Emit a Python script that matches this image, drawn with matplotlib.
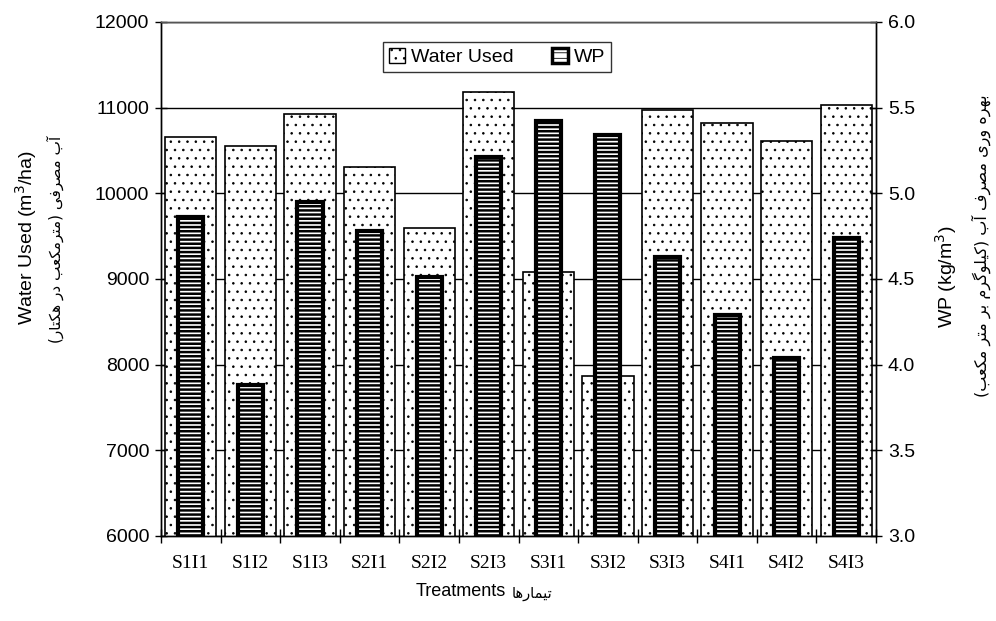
import numpy as np
import matplotlib
matplotlib.use('Agg')
import matplotlib.pyplot as plt
from matplotlib.patches import Patch

# data
treatments = ['S1I1', 'S1I2', 'S1I3', 'S2I1', 'S2I2', 'S2I3',
              'S3I1', 'S3I2', 'S3I3', 'S4I1', 'S4I2', 'S4I3']
water_used = [10655, 10550, 10925, 10310, 9590, 11185,
              9080, 7865, 10975, 10815, 10605, 11035]
wp = [4.86, 3.88, 4.95, 4.78, 4.51, 5.21,
      5.42, 5.34, 4.63, 4.29, 4.04, 4.74]

left_ticks = [6000, 7000, 8000, 9000, 10000, 11000, 12000]
right_ticks = [3.0, 3.5, 4.0, 4.5, 5.0, 5.5, 6.0]

fa_left = 'آب مصرفی (مترمکعب در هکتار)'
fa_right = 'بهره وری مصرف آب (کیلوگرم بر متر مکعب)'
fa_x = 'تیمارها'

# tiny Persian shaper (no arabic_reshaper available): isolated, final, initial, medial
FORMS = {
    'ا': ('\uFE8D', '\uFE8E', None, None),
    'آ': ('\uFE81', '\uFE82', None, None),
    'ب': ('\uFE8F', '\uFE90', '\uFE91', '\uFE92'),
    'ت': ('\uFE95', '\uFE96', '\uFE97', '\uFE98'),
    'د': ('\uFEA9', '\uFEAA', None, None),
    'ر': ('\uFEAD', '\uFEAE', None, None),
    'ص': ('\uFEB9', '\uFEBA', '\uFEBB', '\uFEBC'),
    'ع': ('\uFEC9', '\uFECA', '\uFECB', '\uFECC'),
    'ف': ('\uFED1', '\uFED2', '\uFED3', '\uFED4'),
    'ل': ('\uFEDD', '\uFEDE', '\uFEDF', '\uFEE0'),
    'م': ('\uFEE1', '\uFEE2', '\uFEE3', '\uFEE4'),
    'ه': ('\uFEE9', '\uFEEA', '\uFEEB', '\uFEEC'),
    'و': ('\uFEED', '\uFEEE', None, None),
    'ی': ('\uFBFC', '\uFBFD', '\uFBFE', '\uFBFF'),
    'ک': ('\uFB8E', '\uFB8F', '\uFB90', '\uFB91'),
    'گ': ('\uFB92', '\uFB93', '\uFB94', '\uFB95'),
}


def shape_fa(text):
    out = []
    for i, ch in enumerate(text):
        if ch not in FORMS:
            out.append(ch)
            continue
        prev = text[i - 1] if i > 0 else ''
        nxt = text[i + 1] if i + 1 < len(text) else ''
        join_prev = prev in FORMS and FORMS[prev][2] is not None
        join_next = FORMS[ch][2] is not None and nxt in FORMS
        iso, fin, ini, med = FORMS[ch]
        if join_prev and join_next:
            out.append(med)
        elif join_prev:
            out.append(fin)
        elif join_next:
            out.append(ini)
        else:
            out.append(iso)
    vis = ''.join(reversed(out))
    return vis.translate(str.maketrans('()', ')('))


plt.rcParams['font.family'] = ['Liberation Sans', 'DejaVu Sans']
plt.rcParams['hatch.linewidth'] = 0.6

fig = plt.figure(figsize=(9.96, 6.21), dpi=100)
ax = fig.add_axes([0.1617, 0.1369, 0.7178, 0.8277])
ax2 = ax.twinx()

x = np.arange(len(treatments))

ax.bar(x, water_used, width=0.86, color='white', edgecolor='black',
       linewidth=1.2, hatch='..', zorder=2)
ax.set_ylim(6000, 12000)
ax.set_yticks(left_ticks)
ax.set_axisbelow(True)
ax.yaxis.grid(True, color='black', linewidth=1.0)

wp_bars = ax2.bar(x, wp, width=0.42, color='white', edgecolor='black',
                  linewidth=3.0, hatch='----', zorder=3)
for b in wp_bars:
    if hasattr(b, 'set_hatch_linewidth'):
        b.set_hatch_linewidth(1.8)
ax2.set_ylim(3.0, 6.0)
ax2.set_yticks(right_ticks)
ax2.set_yticklabels([f'{t:.1f}' for t in right_ticks])

ax.set_xlim(-0.5, len(treatments) - 0.5)
ax.set_xticks(x)
ax.set_xticklabels(treatments, fontfamily='Liberation Serif', fontsize=14)
ax.set_xticks(np.arange(-0.5, len(treatments)), minor=True)
ax.tick_params(axis='x', which='major', length=0, pad=14)
ax.tick_params(axis='x', which='minor', direction='inout', length=10, width=1)
ax.tick_params(axis='y', direction='inout', length=9, width=1, labelsize=14, pad=4)
ax2.tick_params(axis='y', direction='inout', length=9, width=1, labelsize=14, pad=4)

for a in (ax, ax2):
    for s in ['left', 'right', 'bottom']:
        a.spines[s].set_color('black')
        a.spines[s].set_linewidth(1.0)
    a.spines['top'].set_color('#555555')
    a.spines['top'].set_linewidth(1.0)

# axis titles: English line + Persian line
fig.text(0.026, 0.617, 'Water Used (m$^3$/ha)', rotation=90, ha='center', va='center',
         fontsize=14)
fig.text(0.056, 0.614, shape_fa(fa_left), rotation=90, ha='center', va='center',
         fontsize=11, family=['DejaVu Sans'])
fig.text(0.950, 0.554, 'WP (kg/m$^3$)', rotation=90, ha='center', va='center',
         fontsize=14)
fig.text(0.985, 0.605, shape_fa(fa_right), rotation=90, ha='center', va='center',
         fontsize=11.5, family=['DejaVu Sans'])
fig.text(0.508, 0.048, 'Treatments', ha='right', va='center', fontsize=13)
fig.text(0.514, 0.045, shape_fa(fa_x), ha='left', va='center', fontsize=10.5,
         family=['DejaVu Sans'])

handles = [Patch(facecolor='white', edgecolor='black', hatch='..', linewidth=1.0),
           Patch(facecolor='white', edgecolor='black', hatch='---', linewidth=2.5)]
leg = ax.legend(handles, ['Water Used', 'WP'], ncol=2, loc='upper center',
                bbox_to_anchor=(0.47, 0.98), frameon=True, fancybox=False,
                edgecolor='black', fontsize=14, handlelength=0.8, handleheight=0.8,
                handletextpad=0.3, columnspacing=2.0, borderpad=0.3)
leg.get_frame().set_linewidth(1.0)
leg.set_zorder(10)

fig.savefig('out.png', dpi=100, facecolor='white')
